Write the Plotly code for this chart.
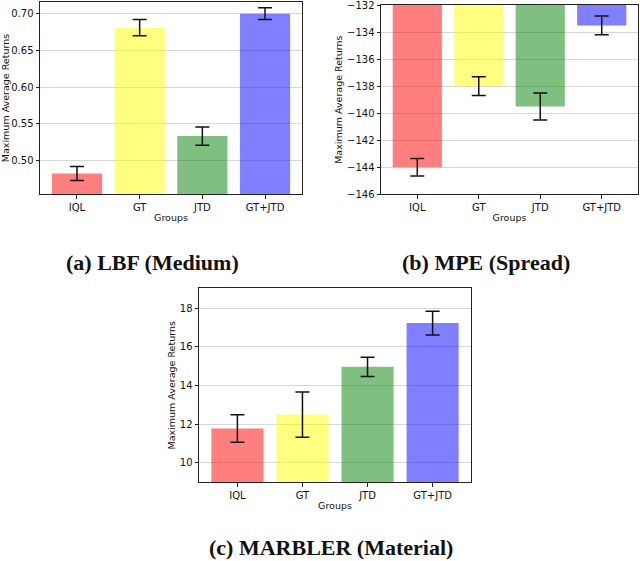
import plotly.graph_objects as go

W, H = 640, 561

groups = ["IQL", "GT", "JTD", "GT+JTD"]
bar_colors = ["red", "yellow", "green", "blue"]

lbf_mean = [0.482, 0.681, 0.533, 0.700]
lbf_err = [0.0095, 0.011, 0.0125, 0.008]

mpe_mean = [-144.0, -138.0, -139.5, -133.5]
mpe_err = [0.65, 0.7, 1.0, 0.7]

marbler_mean = [11.78, 12.5, 14.97, 17.23]
marbler_err = [0.71, 1.17, 0.5, 0.61]

captions = ["(a) LBF (Medium)", "(b) MPE (Spread)", "(c) MARBLER (Material)"]


def px_x(p):
    return p / W


def px_y(p):
    return 1 - p / H


fig = go.Figure()

panels = [
    # (means, errs, axis suffix, x px range, y px range, y range, dtick, tickformat)
    (lbf_mean, lbf_err, "", (40, 302), (2, 194), [0.454, 0.716], 0.05, ".2f"),
    (mpe_mean, mpe_err, "2", (381, 638), (5, 194.3), [-146.01, -131.99], 2, "d"),
    (marbler_mean, marbler_err, "3", (199, 471), (288.3, 482.3), [9.0, 19.03], 2, "d"),
]

tick_font = dict(family="DejaVu Sans", size=10, color="#111")
title_font = dict(family="DejaVu Sans", size=9.5, color="#111")

for mean, err, s, (x0, x1), (y0, y1), yr, dt, fmt in panels:
    fig.add_trace(go.Bar(
        x=groups, y=mean,
        marker=dict(color=bar_colors, opacity=0.5, line=dict(width=0)),
        width=0.8,
        error_y=dict(type="data", array=err, visible=True, color="#111",
                     thickness=1.5, width=7),
        xaxis="x" + s, yaxis="y" + s, showlegend=False,
    ))
    fig.layout["xaxis" + s] = dict(
        domain=[px_x(x0), px_x(x1)], anchor="y" + s, automargin=False,
        range=[-0.59, 3.59], showgrid=False, zeroline=False,
        showline=True, mirror=True, linecolor="#222", linewidth=1,
        ticks="outside", ticklen=3.5, tickcolor="#222", tickfont=tick_font,
        title=dict(text="Groups", font=title_font, standoff=2),
    )
    fig.layout["yaxis" + s] = dict(
        domain=[px_y(y1), px_y(y0)], anchor="x" + s, automargin=False,
        range=yr, dtick=dt, tickformat=fmt, ticklabeloverflow="allow",
        showgrid=True, gridcolor="#d8d8d8", gridwidth=1, zeroline=False,
        showline=True, mirror=True, linecolor="#222", linewidth=1,
        ticks="outside", ticklen=3.5, tickcolor="#222", tickfont=tick_font,
        title=dict(text="Maximum Average Returns", font=title_font, standoff=2),
    )

cap_pos = [(152, 262), (486, 262), (331, 547)]
for text, (cx, cy) in zip(captions, cap_pos):
    fig.add_annotation(
        text="<b>" + text + "</b>", x=px_x(cx), y=px_y(cy),
        xref="paper", yref="paper", showarrow=False,
        xanchor="center", yanchor="middle",
        font=dict(family="Liberation Serif", size=22, color="#111"),
    )

fig.update_layout(
    width=W, height=H,
    margin=dict(l=0, r=0, t=0, b=0),
    paper_bgcolor="white", plot_bgcolor="white",
    bargap=0.2,
)

# the page body has a default 8px margin; drop it so the figure fills the window
fig.write_html("out.html", config={"displayModeBar": False},
               post_script="document.body.style.margin='0';")
